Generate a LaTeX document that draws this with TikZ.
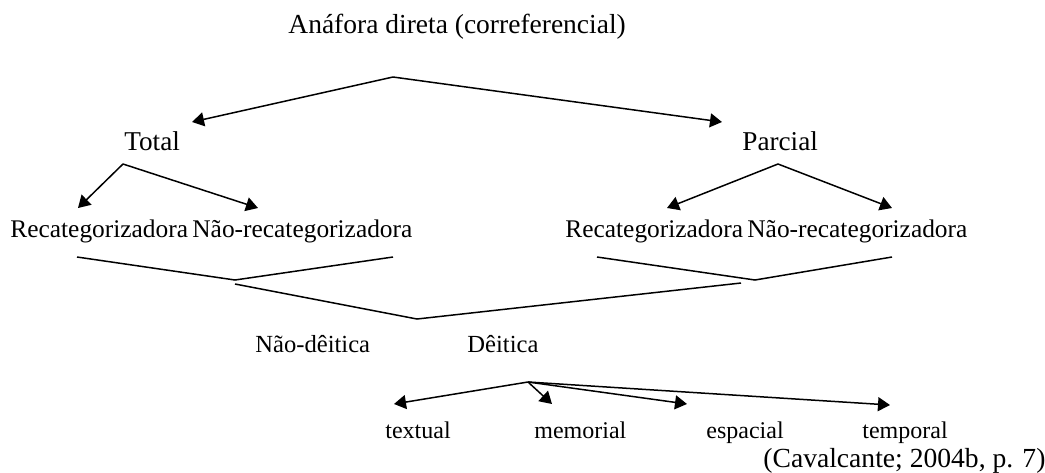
\documentclass[tikz,border=0pt]{standalone}
\usepackage{fontspec}
\setmainfont{Liberation Serif}
\usepackage{tikz}
\usetikzlibrary{arrows.meta, positioning, calc}
\newcommand{\sz}[1]{\fontsize{#1}{#1}\selectfont}
\tikzstyle{term} = [inner sep=0pt, anchor=base west, font=\sz{12}]
\tikzstyle{arrow} = [line width=0.75pt,-{Triangle[length=6pt,width=7pt]}]
\tikzstyle{fork} = [line width=0.75pt]

\begin{document}
\begin{tikzpicture}[x=0.5pt,y=-0.5pt]
\useasboundingbox (0,0) rectangle (1045,472);
\node (direta) [term, font=\sz{13.75}] at (288,33) {Anáfora direta (correferencial)};
\node (total) [term, font=\sz{13.6}] at (124,150) {Total};
\node (parcial) [term, font=\sz{13.6}] at (742,150) {Parcial};
\node (recatT) [term, font=\sz{12.7}] at (10,237) {Recategorizadora};
\node (naorecatT) [term, font=\sz{12.7}] at (192,237) {Não-recategorizadora};
\node (recatP) [term, font=\sz{12.7}] at (565,237) {Recategorizadora};
\node (naorecatP) [term, font=\sz{12.7}] at (747,237) {Não-recategorizadora};
\node (naodeitica) [term, font=\sz{12.3}] at (255,352) {Não-dêitica};
\node (deitica) [term, font=\sz{12.3}] at (467,352) {Dêitica};
\node (textual) [term] at (385,438) {textual};
\node (memorial) [term] at (534,438) {memorial};
\node (espacial) [term] at (706,438) {espacial};
\node (temporal) [term] at (862,438) {temporal};
\node (fonte) [term, font=\sz{13.8}] at (763,467) {(Cavalcante; 2004b, p. 7)};

% pontos de ramificacao
\coordinate (topfork) at (393,77);
\coordinate (totalfork) at (123,164);
\coordinate (parcialfork) at (778,164);
\coordinate (deiticafork) at (528,382);
\coordinate (totaltip) at (192,122);
\coordinate (parcialtip) at (722,122);

\draw [arrow] (topfork) -- (totaltip);
\draw [arrow] (topfork) -- (parcialtip);
\draw [arrow] (totalfork) -- ($(recatT.base west)+(68,-29)$);
\draw [arrow] (totalfork) -- ($(naorecatT.base west)+(66,-29)$);
\draw [arrow] (parcialfork) -- ($(recatP.base west)+(102,-29)$);
\draw [arrow] (parcialfork) -- ($(naorecatP.base west)+(145,-29)$);

% chaves
\draw [fork] ($(recatT.base west)+(67,20)$) -- (235,280) -- ($(naorecatT.base west)+(201,20)$);
\draw [fork] ($(recatP.base west)+(32,20)$) -- (755,280) -- ($(naorecatP.base west)+(145,20)$);
\draw [fork] (235,284) -- ($(naodeitica.base west)+(162,-33)$) -- (741,283);

\draw [arrow] (deiticafork) -- ($(textual.base west)+(9,-34)$);
\draw [arrow] (deiticafork) -- ($(memorial.base west)+(18,-34)$);
\draw [arrow] (deiticafork) -- ($(espacial.base west)+(-19,-34)$);
\draw [arrow] (deiticafork) -- ($(temporal.base west)+(28,-33)$);
\end{tikzpicture}
\end{document}
